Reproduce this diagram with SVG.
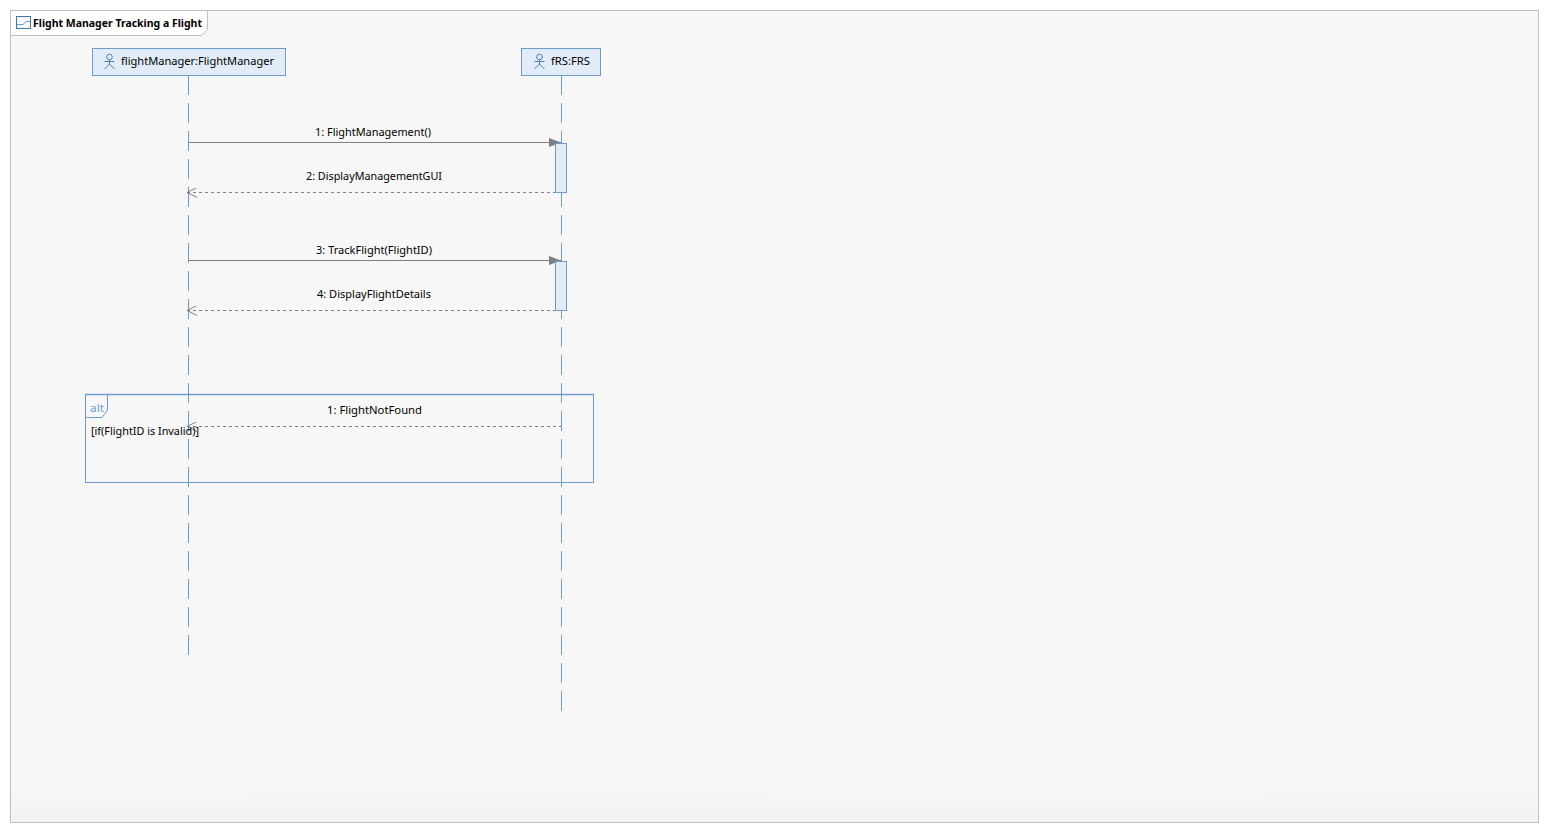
<svg xmlns="http://www.w3.org/2000/svg" width="1549" height="833" viewBox="0 0 1549 833">
<style>
text{font-family:"Noto Sans","Open Sans","Liberation Sans",sans-serif;font-size:11px;fill:#000}
.m{text-anchor:middle}
.box{fill:#e1ecf8;stroke:#6f9cc9;stroke-width:1}
.life{fill:none;stroke:#6f9cc9;stroke-width:1;stroke-dasharray:20 8}
.ic{fill:none;stroke:#4c7fa8;stroke-width:1}
.msg{fill:none;stroke:#808080;stroke-width:1}
.ret{stroke-dasharray:3 3}
</style>
<defs>
<linearGradient id="bg" x1="0" y1="0" x2="0" y2="1"><stop offset="0.955" stop-color="#f7f7f7"/><stop offset="1" stop-color="#f2f2f2"/></linearGradient>
<marker id="fill" markerUnits="userSpaceOnUse" markerWidth="14" markerHeight="10" refX="12" refY="5" orient="auto"><path d="M0,0.500L12,5L0,9.500Z" fill="#808080"/></marker>
<marker id="open" markerUnits="userSpaceOnUse" markerWidth="14" markerHeight="12" refX="1" refY="5" orient="auto"><path d="M11,0L1,5L11,10" fill="none" stroke="#808080"/></marker>
<g id="actor"><circle cx="0" cy="-4" r="2.800" class="ic"/><path d="M0,-1V3M-5,0.500H5M-5,8L0,3L5,8" class="ic"/></g>
</defs>
<rect width="1549" height="833" fill="#fff"/>
<g id="frame">
<rect x="10.500" y="10.500" width="1528" height="812" fill="url(#bg)" stroke="#c0c0c0"/>
<path d="M10.500,35.500H201.500L207.500,29.500V10.500H10.500Z" fill="#fff" stroke="#c0c0c0"/>
<rect x="16.500" y="16.500" width="14" height="12" fill="#f4f8fb" stroke="#3f7a9e"/>
<path d="M17,24.500H23L26.500,21.500H30" fill="none" stroke="#6f9cc9"/>
<text x="33" y="27" font-weight="700" textLength="169" lengthAdjust="spacingAndGlyphs">Flight Manager Tracking a Flight</text>
</g>
<g id="connectors">
<path class="life" d="M188.500,75V656"/>
<path class="life" d="M561.500,75V712"/>
<path class="msg" d="M188,142.500H561" marker-end="url(#fill)"/>
<path class="msg" d="M188,260.500H561" marker-end="url(#fill)"/>
</g>
<g id="flightManager">
<rect class="box" x="92.500" y="48.500" width="193" height="27"/>
<use href="#actor" x="109.500" y="61"/>
<text x="121" y="65" textLength="153" lengthAdjust="spacingAndGlyphs">flightManager:FlightManager</text>
</g>
<g id="fRS">
<rect class="box" x="521.500" y="48.500" width="79" height="27"/>
<use href="#actor" x="539.500" y="61"/>
<text x="551" y="65" textLength="39" lengthAdjust="spacingAndGlyphs">fRS:FRS</text>
</g>
<g id="activation1"><rect class="box" x="555.500" y="143.500" width="11" height="49"/></g>
<g id="activation2"><rect class="box" x="555.500" y="261.500" width="11" height="49"/></g>
<g id="returns">
<path class="msg ret" d="M187,192.500H555" marker-start="url(#open)"/>
<path class="msg ret" d="M187,310.500H555" marker-start="url(#open)"/>
<path class="msg ret" d="M187,426.500H561" marker-start="url(#open)"/>
</g>
<g id="labels">
<text class="m" x="373" y="136" textLength="116" lengthAdjust="spacingAndGlyphs">1: FlightManagement()</text>
<text class="m" x="374" y="180" textLength="136" lengthAdjust="spacingAndGlyphs">2: DisplayManagementGUI</text>
<text class="m" x="374" y="254" textLength="116" lengthAdjust="spacingAndGlyphs">3: TrackFlight(FlightID)</text>
<text class="m" x="374" y="298" textLength="114" lengthAdjust="spacingAndGlyphs">4: DisplayFlightDetails</text>
<text class="m" x="374.500" y="414" textLength="95" lengthAdjust="spacingAndGlyphs">1: FlightNotFound</text>
</g>
<g id="alt">
<rect x="85.500" y="394.500" width="508" height="88" fill="none" stroke="#6f9cc9"/>
<path d="M85,394.500H594" fill="none" stroke="#6f9cc9" stroke-width="1.500"/>
<path d="M85.500,417.500H102L107.500,410V394.500" fill="none" stroke="#6f9cc9"/>
<text x="90" y="412" style="fill:#6f9cc9" textLength="14" lengthAdjust="spacingAndGlyphs">alt</text>
<text x="91" y="435" textLength="108" lengthAdjust="spacingAndGlyphs">[if(FlightID is Invalid)]</text>
</g>
</svg>
